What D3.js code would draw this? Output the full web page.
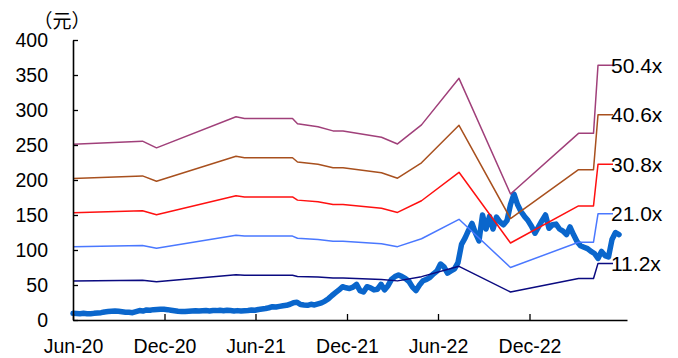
<!DOCTYPE html>
<html>
<head>
<meta charset="utf-8">
<script src="https://cdn.jsdelivr.net/npm/d3@7/dist/d3.min.js"></script>
<style>
  html, body { margin: 0; padding: 0; background: #fff; }
  svg { display: block; }
  text { font-family: "Liberation Sans", Arial, sans-serif; fill: #000; }
</style>
</head>
<body>
<svg id="chart" width="678" height="358"></svg>
<script>
// PE band: per-share earnings at each revision date, times fixed multiples
const epsDates = ["2020-06-01","2020-10-18","2020-11-15","2021-04-23","2021-05-10","2021-08-14",
  "2021-08-24","2021-10-04","2021-11-03","2021-11-23","2022-02-08","2022-03-12","2022-04-29",
  "2022-07-13","2022-10-24","2023-03-09","2023-04-08","2023-04-17","2023-05-17"];
const epsValues = [4.98, 5.07, 4.88, 5.76, 5.71, 5.71, 5.56, 5.48, 5.36, 5.36, 5.18, 4.99, 5.53,
  6.85, 3.57, 5.29, 5.29, 7.22, 7.22];
const multiples = [50.4, 40.6, 30.8, 21.0, 11.2];
const multipleLabels = ["50.4x", "40.6x", "30.8x", "21.0x", "11.2x"];
const bandColors = ["#A0407A", "#A8501E", "#FF1010", "#4A78FF", "#0A0A80"];

// Weekly closing price (元), first week starting 2020-06-01
const priceStart = "2020-06-01";
const priceValues = [
  9.5, 9.2, 9.0, 9.5, 9.0, 8.8, 9.5, 10.0, 10.5, 11.5, 12.0, 12.5, 12.9, 12.5, 11.8, 11.2,
  11.0, 10.5, 12.0, 13.5, 12.8, 14.3, 14.0, 14.8, 15.0, 15.3, 15.2, 14.8, 14.0, 13.2, 12.5, 12.2,
  12.0, 12.5, 13.0, 13.2, 12.8, 13.3, 13.5, 13.0, 13.6, 13.4, 13.8, 13.3, 14.0, 13.5, 13.0, 13.4,
  12.9, 13.2, 13.6, 14.3, 14.0, 15.0, 15.7, 16.5, 17.5, 19.0, 18.5, 19.5, 20.4, 21.0, 22.5, 24.7,
  25.5, 22.0, 21.4, 21.0, 22.4, 21.5, 23.0, 24.5, 27.0, 30.5, 35.0, 39.0, 43.0, 47.6, 46.0, 45.0,
  47.0, 51.0, 42.0, 40.0, 47.6, 46.0, 43.0, 44.0, 51.0, 43.0, 49.0, 58.0, 62.0, 64.3, 62.0, 59.0,
  55.0, 47.0, 42.0, 50.0, 56.0, 58.0, 61.0, 66.0, 70.0, 80.0, 76.0, 67.0, 70.0, 73.0, 82.0, 108.0,
  117.0, 128.0, 138.0, 124.0, 113.0, 150.0, 130.0, 148.0, 130.0, 147.0, 140.0, 136.0, 142.0, 165.0,
  180.0, 165.0, 155.0, 148.0, 142.0, 134.0, 124.0, 133.0, 142.0, 150.0, 131.0, 136.0, 137.0, 130.0,
  127.0, 122.0, 133.0, 122.0, 112.0, 106.0, 104.0, 102.0, 98.0, 95.0, 88.0, 98.0, 92.0, 90.0,
  115.0, 125.0, 122.0
];

const xTickDates = ["2020-06-01","2020-12-01","2021-06-01","2021-12-01","2022-06-01","2022-12-01"];
const xTickLabels = ["Jun-20", "Dec-20", "Jun-21", "Dec-21", "Jun-22", "Dec-22"];
const yTicks = [0, 50, 100, 150, 200, 250, 300, 350, 400];
const xDomain = ["2020-06-01", "2023-06-14"];
const unitLabel = "（元）";

const parse = d3.timeParse("%Y-%m-%d");
const svg = d3.select("#chart");

const plot = { left: 73, right: 627, top: 40, bottom: 320 };

const x = d3.scaleTime()
  .domain(xDomain.map(parse))
  .range([plot.left, plot.right]);
const y = d3.scaleLinear()
  .domain([0, 400])
  .range([plot.bottom, plot.top]);

// price series
const start = parse(priceStart);
const price = priceValues.map((v, i) => ({ date: d3.timeDay.offset(start, 7 * i), value: v }));

svg.append("path")
  .datum(price)
  .attr("fill", "none")
  .attr("stroke", "#0A66CC")
  .attr("stroke-width", 5.5)
  .attr("stroke-linejoin", "round")
  .attr("stroke-linecap", "round")
  .attr("d", d3.line().x(d => x(d.date)).y(d => y(d.value)));

// band lines
const eps = epsDates.map((d, i) => ({ date: parse(d), eps: epsValues[i] }));
const bandLine = m => d3.line().x(d => x(d.date)).y(d => y(d.eps * m));

multiples.forEach((m, k) => {
  svg.append("path")
    .datum(eps)
    .attr("fill", "none")
    .attr("stroke", bandColors[k])
    .attr("stroke-width", 1.5)
    .attr("stroke-linejoin", "round")
    .attr("d", bandLine(m));
});

// band labels at the line ends
const last = eps[eps.length - 1];
multiples.forEach((m, k) => {
  svg.append("text")
    .attr("x", x(last.date) - 2)
    .attr("y", y(last.eps * m))
    .attr("dy", "0.36em")
    .style("font-size", "21px")
    .text(multipleLabels[k]);
});

// axes
const yAxis = d3.axisLeft(y)
  .tickValues(yTicks)
  .tickSize(-5)
  .tickSizeOuter(0)
  .tickPadding(25)
  .tickFormat(d3.format("d"));

const xAxis = d3.axisBottom(x)
  .tickValues(xTickDates.map(parse))
  .tickSize(-6)
  .tickSizeOuter(0)
  .tickPadding(19)
  .tickFormat((d, i) => xTickLabels[i]);

const gy = svg.append("g").attr("transform", `translate(${plot.left},0)`).call(yAxis);
const gx = svg.append("g").attr("transform", `translate(0,${plot.bottom})`).call(xAxis);

[gx, gy].forEach(g => {
  g.selectAll("path.domain").attr("stroke", "#000").attr("stroke-width", 1.6);
  g.selectAll(".tick line").attr("stroke", "#000").attr("stroke-width", 1.3);
  g.selectAll(".tick text")
    .style("font-family", "'Liberation Sans', Arial, sans-serif")
    .style("font-size", "19.5px")
    .attr("fill", "#000");
});

svg.append("text")
  .attr("x", 62)
  .attr("y", 28)
  .attr("text-anchor", "middle")
  .style("font-family", "'Noto Sans CJK SC', sans-serif")
  .style("font-size", "19px")
  .text(unitLabel);
</script>
</body>
</html>
